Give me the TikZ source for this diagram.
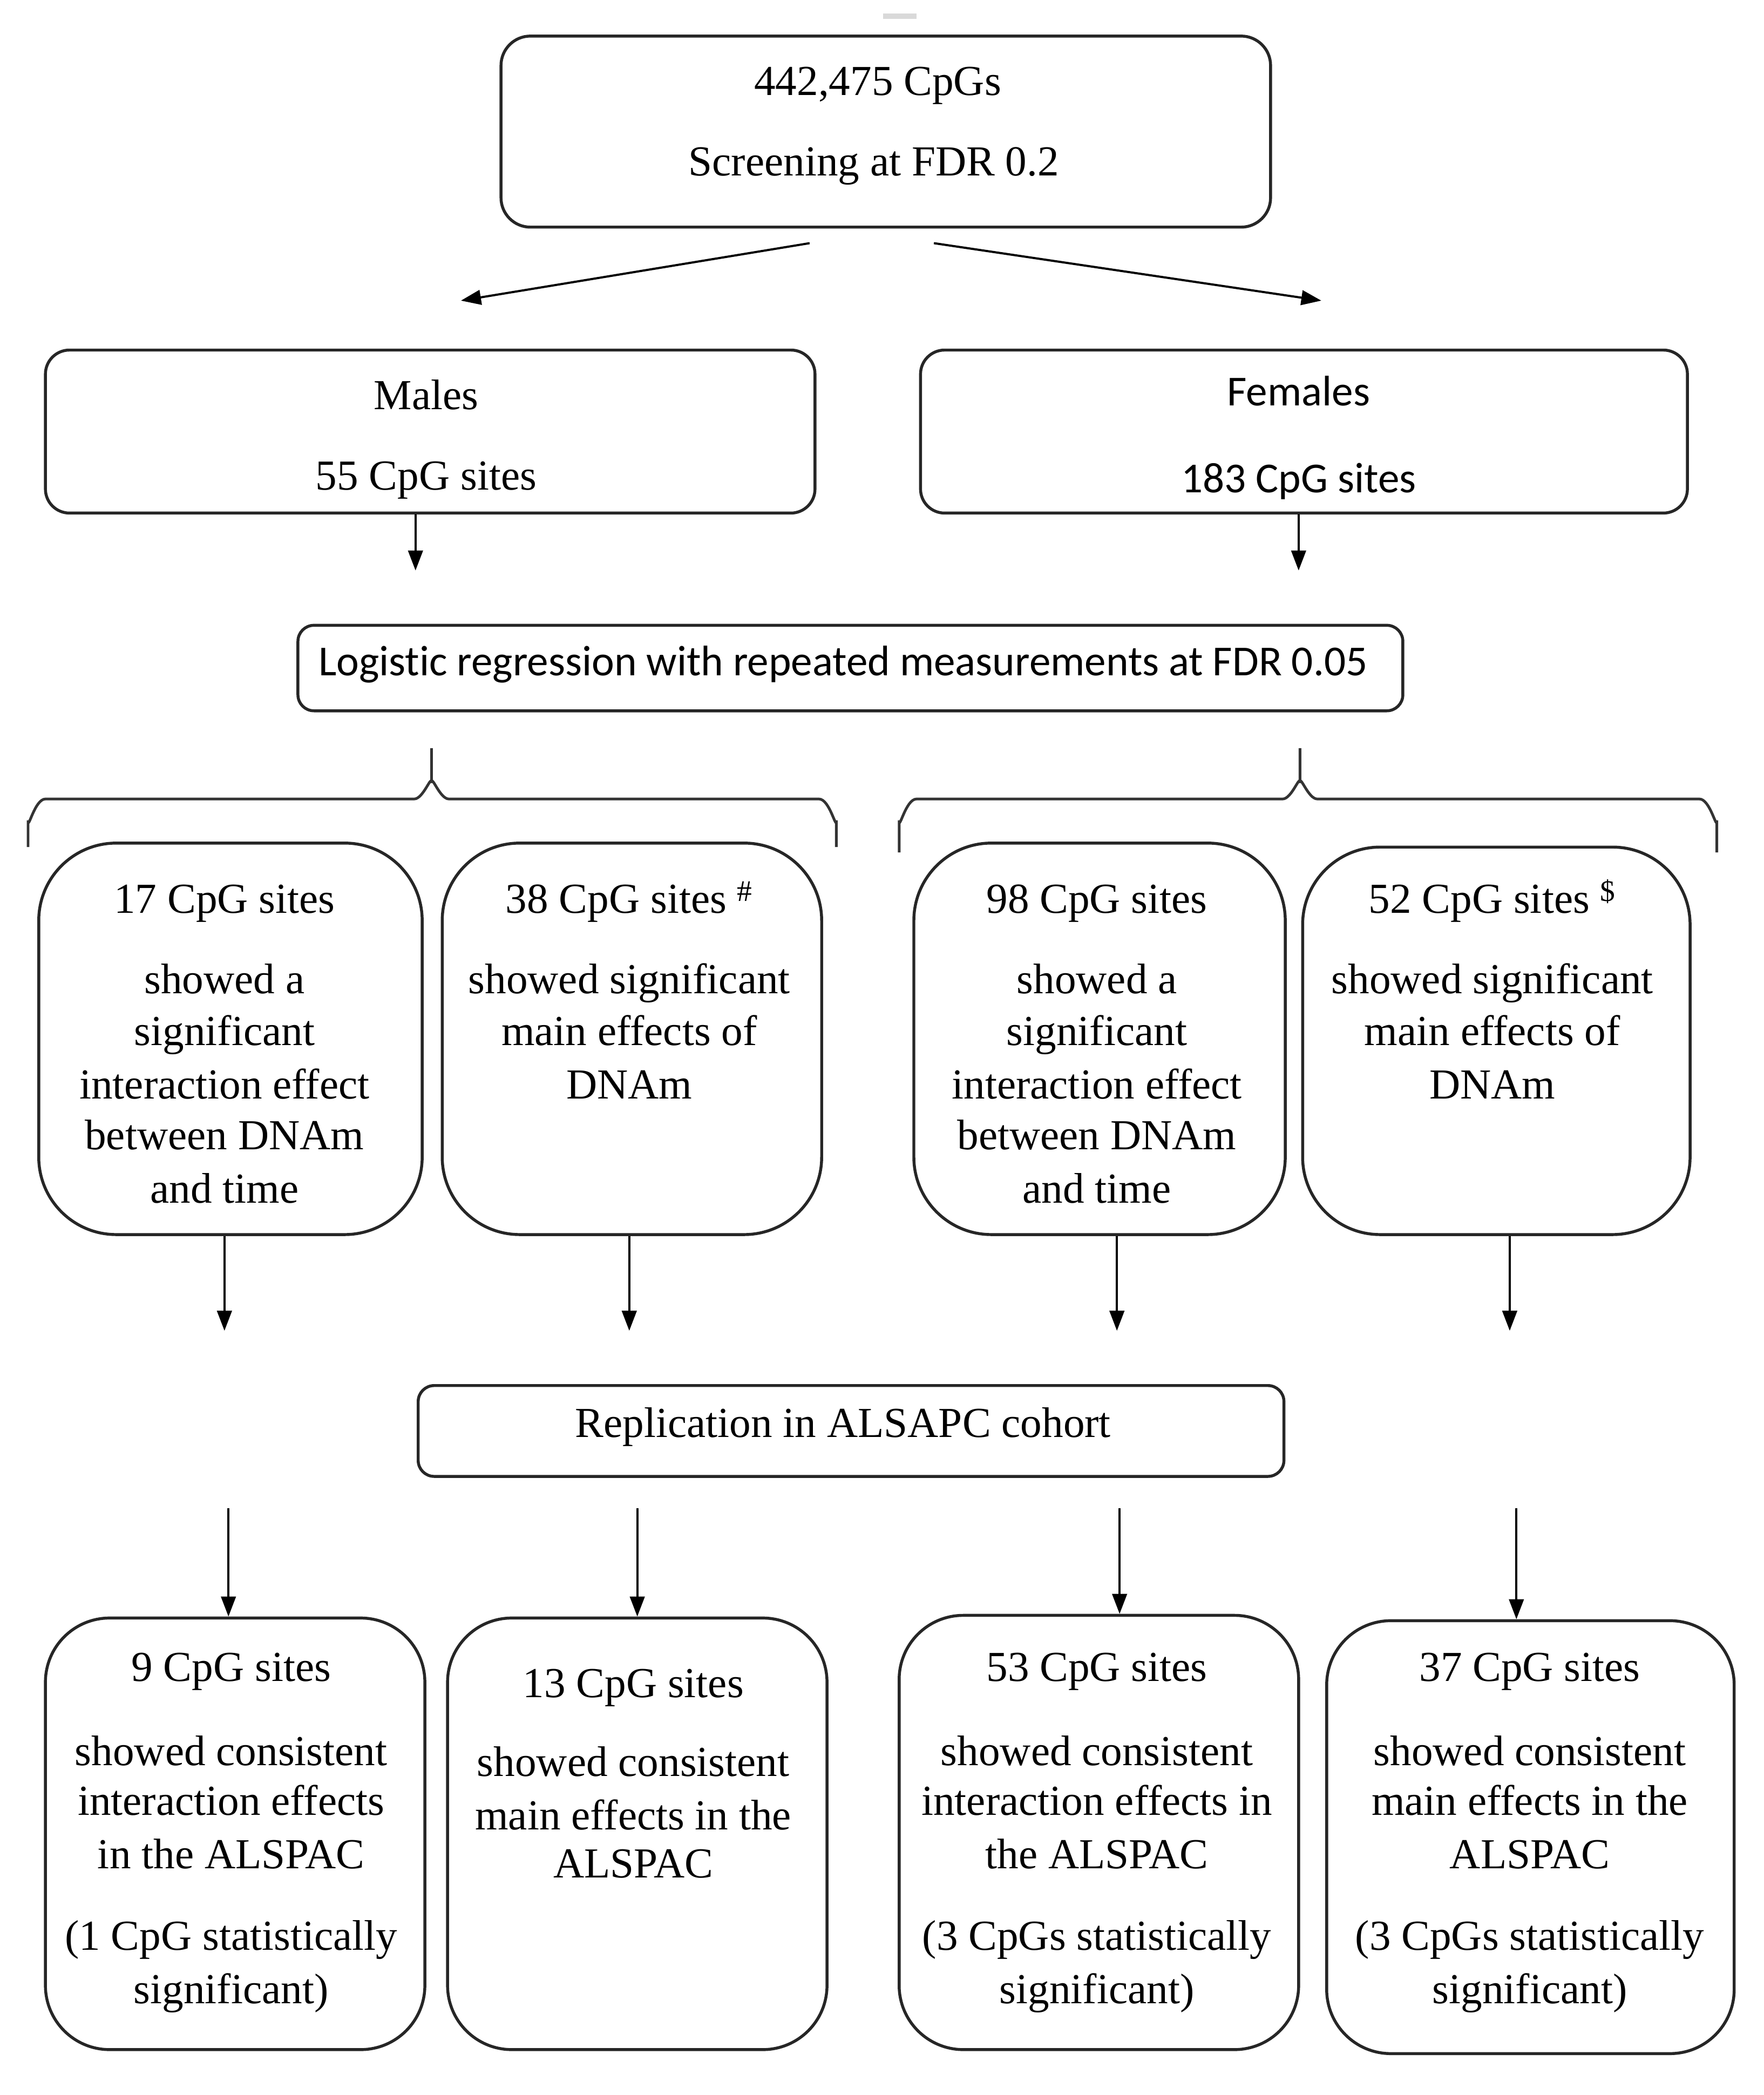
\documentclass[tikz,border=0pt]{standalone}
\usepackage{fontspec}
\setmainfont{Liberation Serif}
\newfontfamily\carl[Ligatures=NoCommon]{Carlito}
\usetikzlibrary{arrows.meta}
\begin{document}
\begin{tikzpicture}[x=1pt,y=-1pt,
  box/.style={draw=black!85, line width=2.2pt, inner sep=0pt},
  arr/.style={draw=black, line width=1.6pt, -{Triangle[length=15pt,width=11pt]}},
  brace/.style={draw=black!80, line width=2pt},
  txt/.style={inner sep=0pt, text height=22pt, text depth=7pt, anchor=center, font=\fontsize{32}{39}\selectfont},
  stxt/.style={inner sep=0pt, text height=22pt, text depth=7pt, anchor=center, font=\carl\fontsize{32}{38}\selectfont}]
\useasboundingbox (0,0) rectangle (1320,1568);
\fill[white] (0,0) rectangle (1320,1568);
\fill[black!15] (661,10) rectangle (686,14);
% boxes
\node[box, rounded corners=22pt, minimum width=576pt, minimum height=143pt] (top) at (663,98.5) {};
\node[box, rounded corners=18pt, minimum width=576pt, minimum height=122pt] (males) at (322,323) {};
\node[box, rounded corners=18pt, minimum width=574pt, minimum height=122pt] (females) at (976,323) {};
\node[box, rounded corners=12pt, minimum width=827pt, minimum height=64pt] (logit) at (636.5,500) {};
\node[box, rounded corners=58pt, minimum width=287pt, minimum height=293pt] (m1) at (172.5,777.5) {};
\node[box, rounded corners=58pt, minimum width=284pt, minimum height=293pt] (m2) at (473,777.5) {};
\node[box, rounded corners=58pt, minimum width=278pt, minimum height=293pt] (f1) at (823,777.5) {};
\node[box, rounded corners=58pt, minimum width=290pt, minimum height=290pt] (f2) at (1120,779) {};
\node[box, rounded corners=12pt, minimum width=648pt, minimum height=68pt] (rep) at (637,1071) {};
\node[box, rounded corners=48pt, minimum width=284pt, minimum height=323pt] (r1) at (176,1372.5) {};
\node[box, rounded corners=48pt, minimum width=284pt, minimum height=323pt] (r2) at (477,1372.5) {};
\node[box, rounded corners=48pt, minimum width=299pt, minimum height=325pt] (r3) at (822.5,1371.5) {};
\node[box, rounded corners=48pt, minimum width=305pt, minimum height=324pt] (r4) at (1145.5,1375) {};
% texts
\node[txt] (t1) at (657,64) {442,475 CpGs};
\node[txt] (t2) at (654,124) {Screening at FDR 0.2};
\node[txt] (t3) at (319,299) {Males};
\node[txt] (t4) at (319,359) {55 CpG sites};
\node[stxt] (t5) at (972,296) {Females};
\node[stxt] (t6) at (972,361) {183 CpG sites};
\node[stxt] (t7) at (631,498) {Logistic regression with repeated measurements at FDR 0.05};
% row 2 texts
\node[txt] (m1a) at (168,676) {17 CpG sites};
\node[txt] (m1b) at (168,736) {showed a};
\node[txt] (m1c) at (168,775) {significant};
\node[txt] (m1d) at (168,815) {interaction effect};
\node[txt] (m1e) at (168,853) {between DNAm};
\node[txt] (m1f) at (168,893) {and time};
\node[txt] (m2a) at (471,676) {38 CpG sites \textsuperscript{\#}};
\node[txt] (m2b) at (471,736) {showed significant};
\node[txt] (m2c) at (471,775) {main effects of};
\node[txt] (m2d) at (471,815) {DNAm};
\node[txt] (f1a) at (821,676) {98 CpG sites};
\node[txt] (f1b) at (821,736) {showed a};
\node[txt] (f1c) at (821,775) {significant};
\node[txt] (f1d) at (821,815) {interaction effect};
\node[txt] (f1e) at (821,853) {between DNAm};
\node[txt] (f1f) at (821,893) {and time};
\node[txt] (f2a) at (1117,676) {52 CpG sites \textsuperscript{\$}};
\node[txt] (f2b) at (1117,736) {showed significant};
\node[txt] (f2c) at (1117,775) {main effects of};
\node[txt] (f2d) at (1117,815) {DNAm};
\node[txt] (t8) at (631,1068) {Replication in ALSAPC cohort};
% bottom texts
\node[txt] (r1a) at (173,1251) {9 CpG sites};
\node[txt] (r1b) at (173,1314) {showed consistent};
\node[txt] (r1c) at (173,1351) {interaction effects};
\node[txt] (r1d) at (173,1391) {in the ALSPAC};
\node[txt] (r1e) at (173,1452) {(1 CpG statistically};
\node[txt] (r1f) at (173,1492) {significant)};
\node[txt] (r2a) at (474,1263) {13 CpG sites};
\node[txt] (r2b) at (474,1322) {showed consistent};
\node[txt] (r2c) at (474,1362) {main effects in the};
\node[txt] (r2d) at (474,1398) {ALSPAC};
\node[txt] (r3a) at (821,1251) {53 CpG sites};
\node[txt] (r3b) at (821,1314) {showed consistent};
\node[txt] (r3c) at (821,1351) {interaction effects in};
\node[txt] (r3d) at (821,1391) {the ALSPAC};
\node[txt] (r3e) at (821,1452) {(3 CpGs statistically};
\node[txt] (r3f) at (821,1492) {significant)};
\node[txt] (r4a) at (1145,1251) {37 CpG sites};
\node[txt] (r4b) at (1145,1314) {showed consistent};
\node[txt] (r4c) at (1145,1351) {main effects in the};
\node[txt] (r4d) at (1145,1391) {ALSPAC};
\node[txt] (r4e) at (1145,1452) {(3 CpGs statistically};
\node[txt] (r4f) at (1145,1492) {significant)};
% arrow coordinates
\coordinate (dl1) at (606,182); \coordinate (dl2) at (345,225);
\coordinate (dr1) at (699,182); \coordinate (dr2) at (989,225);
\draw[arr] (dl1) -- (dl2);
\draw[arr] (dr1) -- (dr2);
\coordinate (me) at (311,427); \coordinate (fe) at (972,427);
\draw[arr] (males.south -| me) -- (me);
\draw[arr] (females.south -| fe) -- (fe);
\foreach \n/\b/\x in {a/m1/168, b/m2/471, c/f1/836, d/f2/1130}{
  \coordinate (e\n) at (\x,996);
  \draw[arr] (\b.south -| e\n) -- (e\n);
}
\foreach \n/\b/\x in {a/r1/171, b/r2/477, c/r3/838, d/r4/1135}{
  \coordinate (s\n) at (\x,1129);
  \draw[arr] (s\n) -- (\b.north -| s\n);
}
% braces
\draw[brace] (21,634) -- (21,614) to[out=-90,in=180] (34,598) -- (310,598) to[out=0,in=90] (323,586) -- (323,560);
\draw[brace] (323,586) to[out=90,in=180] (336,598) -- (613,598) to[out=0,in=-90] (626,614) -- (626,634);
\draw[brace] (673,638) -- (673,614) to[out=-90,in=180] (686,598) -- (960,598) to[out=0,in=90] (973,586) -- (973,560);
\draw[brace] (973,586) to[out=90,in=180] (986,598) -- (1272,598) to[out=0,in=-90] (1285,614) -- (1285,638);
\end{tikzpicture}
\end{document}
